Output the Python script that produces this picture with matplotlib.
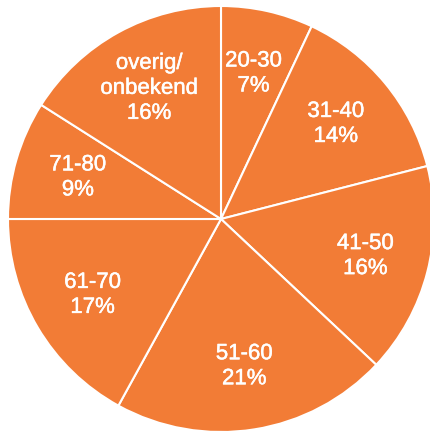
import matplotlib.pyplot as plt
import matplotlib.patheffects as pe

groups = ["20-30", "31-40", "41-50", "51-60", "61-70", "71-80", "overig/\nonbekend"]
shares = [7, 14, 16, 21, 17, 9, 16]

labels = [g + "\n" + str(s) + "%" for g, s in zip(groups, shares)]

fig = plt.figure(figsize=(4.31, 4.34), dpi=100)
ax = fig.add_axes([0.0, 0.0, 1.0, 1.0])
wedges, texts = ax.pie(shares, labels=labels, startangle=90, counterclock=False,
       colors=["#F27C36"] * len(shares), labeldistance=0.7,
       wedgeprops=dict(edgecolor="white", linewidth=1.5),
       textprops=dict(color="white", fontsize=16, family="Liberation Sans",
                      ha="center", va="center", linespacing=1.25),
       radius=213, center=(221, 215))
for t in texts:
    t.set_path_effects([pe.withStroke(linewidth=0.35, foreground="white")])
ax.set_xlim(0, 431)
ax.set_ylim(0, 434)
ax.set_aspect("equal")
ax.axis("off")
fig.savefig("out.png", dpi=100)
